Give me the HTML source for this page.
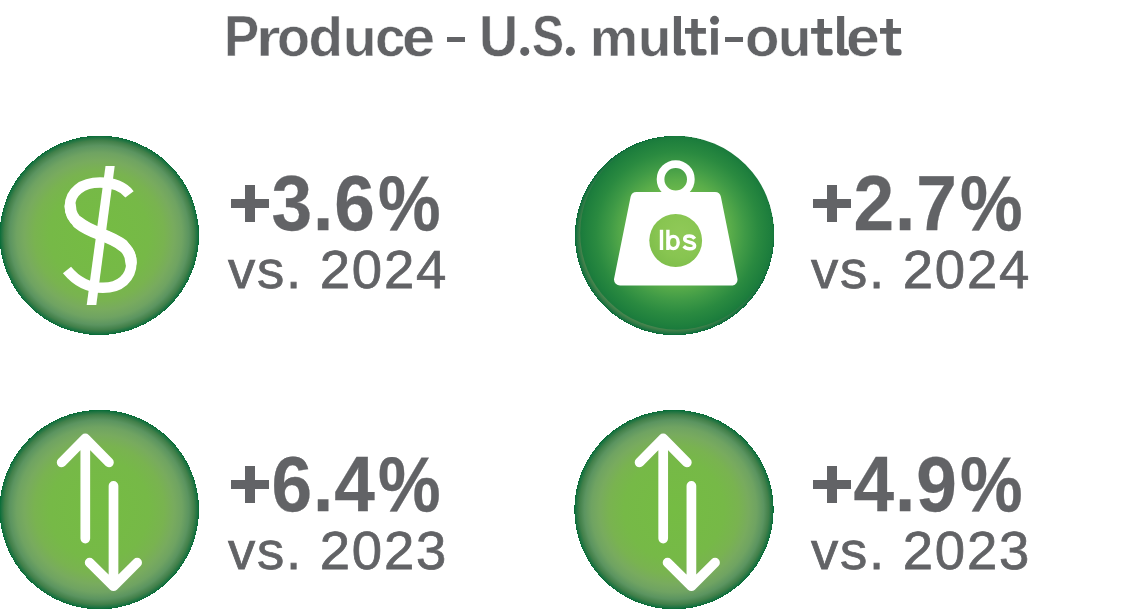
<!DOCTYPE html>
<html>
<head>
<meta charset="utf-8">
<title>Produce - U.S. multi-outlet</title>
<style>
html,body{margin:0;padding:0;background:#fff;}
body{width:1125px;height:609px;position:relative;overflow:hidden;font-family:"Liberation Sans",sans-serif;color:#626366;}
.t{position:absolute;white-space:nowrap;line-height:1;margin:0;}
.tw{top:8.7px;font-size:56.5px;font-weight:bold;transform-origin:0 50%;-webkit-text-stroke:0.5px #fff;}
.dash{position:absolute;background:#626366;height:5px;top:37px;}
.big{font-size:77.6px;font-weight:bold;letter-spacing:1px;-webkit-text-stroke:0.3px #626366;transform:scaleX(0.94);transform-origin:0 50%;}
.big i{font-style:normal;display:inline-block;transform:scaleX(0.965);transform-origin:100% 50%;}
.big b{color:transparent;-webkit-text-stroke:0 transparent;}
.sm{font-size:54.5px;letter-spacing:1.75px;-webkit-text-stroke:0.75px #626366;}
svg{position:absolute;left:0;top:0;}
</style>
</head>
<body>
<svg width="1125" height="609" viewBox="0 0 1125 609">
<defs>
<radialGradient id="g1" cx="0.5" cy="0.5" r="0.5">
<stop offset="0" stop-color="#75bc43"/>
<stop offset="0.5" stop-color="#76b947"/>
<stop offset="0.65" stop-color="#79b350"/>
<stop offset="0.75" stop-color="#78ab5e"/>
<stop offset="0.83" stop-color="#6fa362"/>
<stop offset="0.90" stop-color="#5b9460"/>
<stop offset="0.95" stop-color="#42804a"/>
<stop offset="0.985" stop-color="#1a7240"/>
<stop offset="1" stop-color="#036b35"/>
</radialGradient>
<radialGradient id="g2" cx="0.5" cy="0.5" r="0.5">
<stop offset="0" stop-color="#8cc655"/>
<stop offset="0.3" stop-color="#7abd4e"/>
<stop offset="0.45" stop-color="#68b64b"/>
<stop offset="0.55" stop-color="#5aad4a"/>
<stop offset="0.7" stop-color="#3f9a46"/>
<stop offset="0.84" stop-color="#2a8a40"/>
<stop offset="0.96" stop-color="#1e7f3d"/>
<stop offset="1" stop-color="#1a7a3c"/>
</radialGradient>
<radialGradient id="g3" cx="0.6" cy="0.38" r="0.72">
<stop offset="0" stop-color="#90c958"/>
<stop offset="0.6" stop-color="#88c551"/>
<stop offset="1" stop-color="#7dbd4a"/>
</radialGradient>
</defs>
<g shape-rendering="crispEdges">
<circle cx="99.3" cy="235.3" r="99.7" fill="url(#g1)"/>
<circle cx="674.6" cy="235.6" r="99.7" fill="url(#g1)"/>
<circle cx="99.3" cy="509.6" r="99.7" fill="url(#g1)"/>
<circle cx="674" cy="509.6" r="99.7" fill="url(#g1)"/>
</g>
<circle cx="677" cy="232.9" r="96.8" fill="url(#g2)"/>
<!-- dollar -->
<g fill="none" stroke="#fff" stroke-width="10.5">
<path d="M129.5 194.4 C123 186 112 182.6 100 182.6 C82 182.6 69.9 192 69.9 206.2 C69.9 220 82 227 100 234 C119 241 131.4 248 131.4 262.6 C131.4 278 120 287.8 103 287.8 C88 287.8 76 281 67 270"/>
<path stroke-width="11.5" stroke-linecap="round" d="M70.3 206.2 C70.3 220 82 227 100 234 C119 241 131 248 131 262.6"/>
<path stroke-width="12.6" stroke-linecap="round" d="M78.4 222.65 C83.6 227 91 230.5 100 234 C109.5 237.5 117.25 241 122.6 245.45"/>
</g>
<polygon fill="#fff" points="105.5,166 114.7,166 96.3,305.1 86.7,305.1"/>
<!-- weight -->
<circle cx="675.7" cy="179.2" r="15.15" fill="none" stroke="#fff" stroke-width="7.7"/>
<path fill="#fff" stroke="#fff" stroke-width="12" stroke-linejoin="round" d="M636.5 198 L715 198 L731.5 279.6 L620 279.6 Z"/>
<circle cx="675.7" cy="240.5" r="26.4" fill="url(#g3)"/>
<g fill="none" stroke="#fff" stroke-width="3.4">
<path d="M661.5 229.7 V249.9 M667.9 229.7 V249.9"/>
<ellipse cx="673.3" cy="242.5" rx="4.9" ry="6.1"/>
<path stroke-width="3.5" d="M694.7 238.8 C693.4 237 691.7 236.1 689.4 236.1 C686.5 236.1 684.7 237.2 684.7 239.1 C684.7 241 686.7 241.7 689.6 242.3 C692.7 243 694.6 243.8 694.6 245.8 C694.6 247.7 692.7 248.8 689.6 248.8 C687.2 248.8 685.2 248 683.7 246.2"/>
</g>
<!-- arrows -->
<g id="arr" fill="none" stroke="#fff" stroke-width="9.7" stroke-linecap="round" stroke-linejoin="round">
<path d="M61.65 462.45 L85.3 438.45 L108.95 462.45 M85.3 438.45 L85.3 538.6"/>
<path d="M89.65 562.65 L113.5 586.25 L137.15 562.65 M113.5 586.25 L113.5 485.85"/>
</g>
<use href="#arr" x="577.9" y="0"/>
<g id="plus" fill="#626366" shape-rendering="crispEdges"><rect x="231" y="199.1" width="38" height="8.7"/><rect x="245.05" y="185.1" width="9.75" height="36.7"/></g>
<use href="#plus" x="581.8" y="0"/><use href="#plus" x="0" y="281"/><use href="#plus" x="581.8" y="281"/>
<g fill="#626366">
<path d="M673.9 15.9 H681.0 V49 H683.1 Q685.9 49 685.9 52.3 Q685.9 55.6 683.1 55.6 H676.9 L673.9 52.6 Z M837.1 15.9 H844.2 V49 H846.4 Q849.1 49 849.1 52.3 Q849.1 55.6 846.4 55.6 H840.1 L837.1 52.6 Z M691.2 19 H697.8 V28.1 H705.9 V33.8 H697.8 V47 Q697.8 49 699.8 49 H704.0 Q706.6 49 706.6 52.3 Q706.6 55.6 704.0 55.6 H696.7 Q691.2 55.6 691.2 50 V33.8 H685.0 V28.1 H691.2 Z M817.4 19 H824.0 V28.1 H832.1 V33.8 H824.0 V47 Q824.0 49 826.0 49 H830.1 Q832.8 49 832.8 52.3 Q832.8 55.6 830.1 55.6 H822.9 Q817.4 55.6 817.4 50 V33.8 H811.1 V28.1 H817.4 Z M886.3 19 H892.9 V28.1 H901.0 V33.8 H892.9 V47 Q892.9 49 894.9 49 H899.0 Q901.6 49 901.6 52.3 Q901.6 55.6 899.0 55.6 H891.8 Q886.3 55.6 886.3 50 V33.8 H880.0 V28.1 H886.3 Z"/>
<rect x="711.1" y="28.1" width="6.7" height="26.6"/>
<circle cx="714.55" cy="20.35" r="4.5"/>
<circle cx="524.75" cy="51.4" r="4.5"/>
<circle cx="570.4" cy="51.4" r="4.55"/>
</g>
</svg>
<div class="t tw" style="left:224.1px;transform:scaleX(0.933);">P</div>
<div class="t tw" style="left:255.7px;transform:scale(1.110,0.925);transform-origin:0 46px;">r</div>
<div class="t tw" style="left:276.8px;transform:scale(0.956,0.98);transform-origin:0 46px;margin-top:0.5px;">o</div>
<div class="t tw" style="left:308.4px;transform:scale(1.000,0.972);transform-origin:0 46px;">d</div>
<div class="t tw" style="left:342.5px;transform:scale(0.972,0.925);transform-origin:0 46px;">u</div>
<div class="t tw" style="left:374.6px;transform:scale(0.970,0.98);transform-origin:0 46px;margin-top:0.5px;">c</div>
<div class="t tw" style="left:401.8px;transform:scale(1.054,0.98);transform-origin:0 46px;margin-top:0.5px;">e</div>
<div class="t tw" style="left:478.5px;transform:scaleX(0.959);">U</div>
<div class="t tw" style="left:531.9px;transform:scaleX(0.851);">S</div>
<div class="t tw" style="left:590.4px;transform:scale(0.955,0.925);transform-origin:0 46px;">m</div>
<div class="t tw" style="left:637.6px;transform:scale(0.964,0.925);transform-origin:0 46px;">u</div>
<div class="t tw" style="left:745.1px;transform:scale(0.997,0.98);transform-origin:0 46px;margin-top:0.5px;">o</div>
<div class="t tw" style="left:777.5px;transform:scale(0.964,0.925);transform-origin:0 46px;">u</div>
<div class="t tw" style="left:846.4px;transform:scale(1.073,0.98);transform-origin:0 46px;margin-top:0.5px;">e</div>
<div class="dash" style="left:447px;width:18px;"></div>
<div class="dash" style="left:725px;width:18px;"></div>
<div class="t big" id="b1" style="left:228px;top:165px;"><b>+</b>3.6<i>%</i></div>
<div class="t sm" id="s1" style="left:228px;top:243px;">vs. 2024</div>
<div class="t big" id="b2" style="left:810px;top:165px;"><b>+</b>2.7<i>%</i></div>
<div class="t sm" id="s2" style="left:811px;top:243px;">vs. 2024</div>
<div class="t big" id="b3" style="left:228px;top:446px;"><b>+</b>6.4<i>%</i></div>
<div class="t sm" id="s3" style="left:228px;top:524px;">vs. 2023</div>
<div class="t big" id="b4" style="left:810px;top:446px;"><b>+</b>4.9<i>%</i></div>
<div class="t sm" id="s4" style="left:811px;top:524px;">vs. 2023</div>
</body>
</html>
